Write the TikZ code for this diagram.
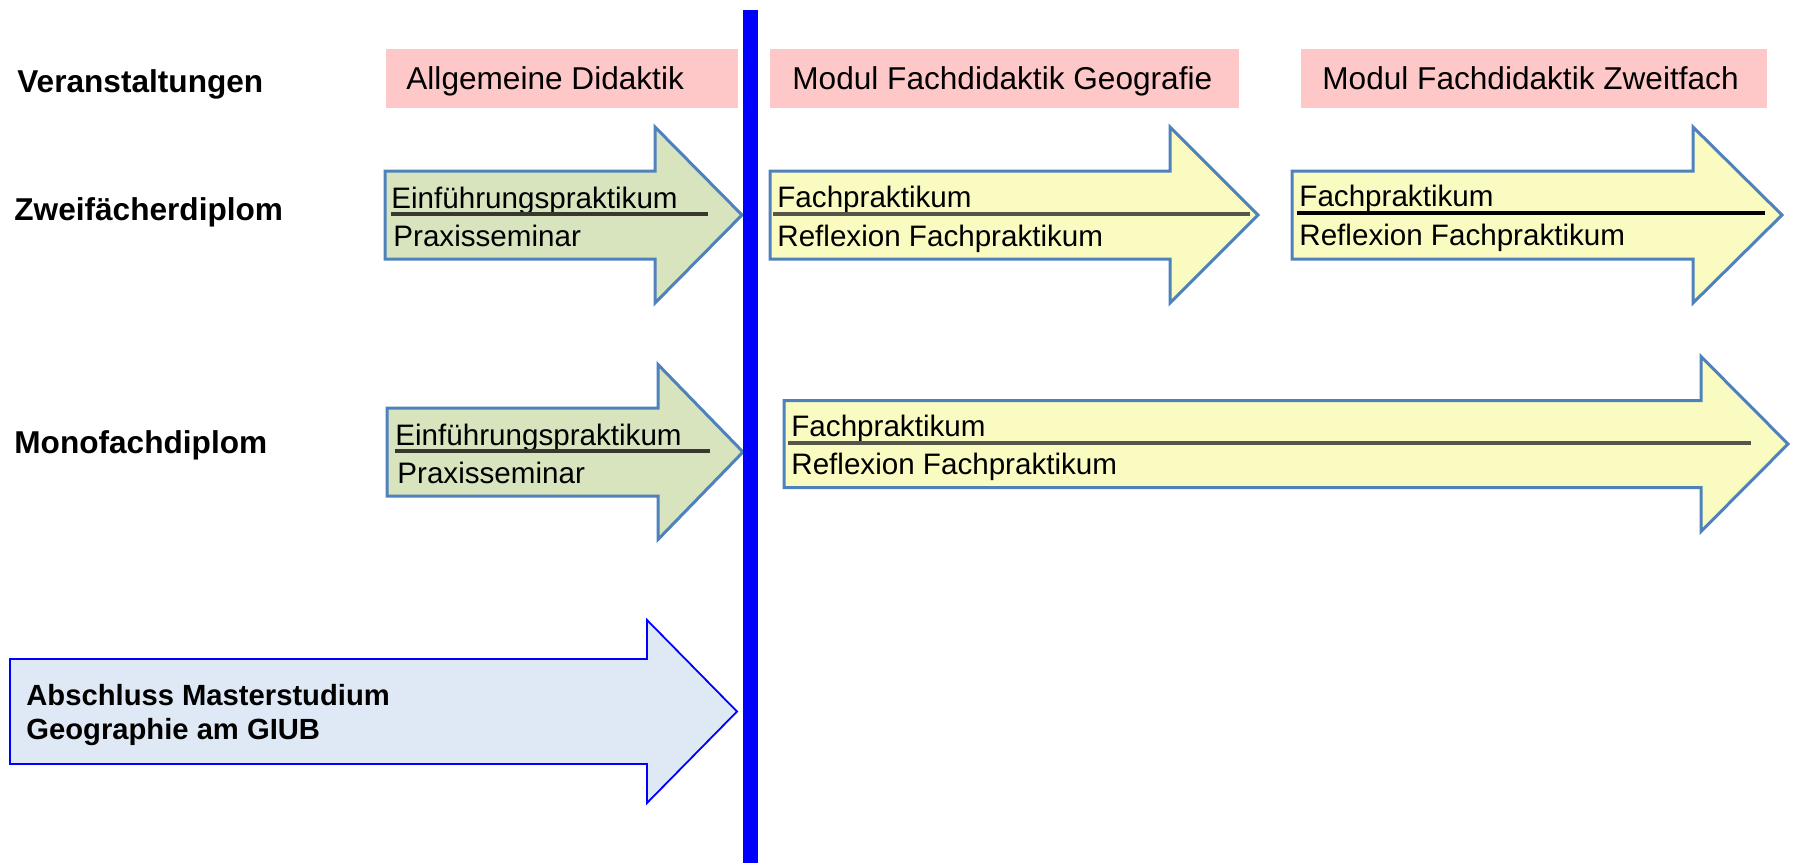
\documentclass[tikz,border=0pt]{standalone}
\usepackage{fontspec}
\setmainfont{Liberation Sans}
\definecolor{pinkbox}{HTML}{FFC8C8}
\definecolor{greenfill}{HTML}{D7E4BD}
\definecolor{yellowfill}{HTML}{FAFBC0}
\definecolor{outlineblue}{HTML}{4F81BD}
\definecolor{lightbluefill}{HTML}{DFE9F5}
\definecolor{divblue}{HTML}{0000FF}
\definecolor{rulegray}{HTML}{38382F}
\definecolor{ruleolive}{HTML}{55564A}
% #1 style, #2 x left, #3 x head, #4 x tip, #5 y centre, #6 half body, #7 half head
\newcommand{\bigarrowshape}[7]{%
  \draw[#1] (#2,#5-#6) -- (#3,#5-#6) -- (#3,#5-#7) -- (#4,#5) -- (#3,#5+#7)
    -- (#3,#5+#6) -- (#2,#5+#6) -- cycle;}
\begin{document}
\begin{tikzpicture}[x=0.5pt,y=-0.5pt,
  header/.style={fill=pinkbox,draw=none},
  headtext/.style={anchor=base west,inner sep=0pt,font=\fontsize{15.8pt}{18pt}\selectfont},
  rowlabel/.style={anchor=base west,inner sep=0pt,font=\fontsize{15.8pt}{18pt}\selectfont\bfseries},
  arrtext/.style={anchor=base west,inner sep=0pt,font=\fontsize{14.8pt}{17pt}\selectfont},
  boldtext/.style={anchor=base west,inner sep=0pt,font=\fontsize{14.6pt}{17pt}\selectfont\bfseries},
  greenarrow/.style={fill=greenfill,draw=outlineblue,line width=1.5pt,line join=miter},
  yellowarrow/.style={fill=yellowfill,draw=outlineblue,line width=1.5pt,line join=miter},
  bluearrow/.style={fill=lightbluefill,draw=divblue,line width=0.9pt,line join=miter},
  divider/.style={draw=divblue,line width=7.5pt},
  subrule/.style={line width=1.7pt}]
\useasboundingbox (0,0) rectangle (1794,863);
% header boxes
\fill[header] (386,49) rectangle (738,108);
\fill[header] (770,49) rectangle (1239,108);
\fill[header] (1301,49) rectangle (1767,108);
\node[headtext] (h1) at (406,89) {Allgemeine Didaktik};
\node[headtext] (h2) at (792,89) {Modul Fachdidaktik Geografie};
\node[headtext] (h3) at (1322,89) {Modul Fachdidaktik Zweitfach};
% row labels
\node[rowlabel] (lv) at (17,92) {Veranstaltungen};
\node[rowlabel] (lz) at (14,220) {Zweifächerdiplom};
\node[rowlabel] (lm) at (14,453) {Monofachdiplom};
% Zweifaecher row
\bigarrowshape{greenarrow}{385}{655}{742}{215}{44}{88}
\bigarrowshape{yellowarrow}{770}{1170}{1258}{215}{44}{88}
\bigarrowshape{yellowarrow}{1292}{1693}{1782}{215}{44}{88}
\node[arrtext] (z1a) at (391,208) {Einführungspraktikum};
\node[arrtext] (z1b) at (393,246) {Praxisseminar};
\draw[subrule,draw=rulegray] (391,214) -- (708,214);
\node[arrtext] (z2a) at (777,207) {Fachpraktikum};
\node[arrtext] (z2b) at (777,246) {Reflexion Fachpraktikum};
\draw[subrule,draw=ruleolive] (773,214) -- (1250,214);
\node[arrtext] (z3a) at (1299,206) {Fachpraktikum};
\node[arrtext] (z3b) at (1299,245) {Reflexion Fachpraktikum};
\draw[subrule,draw=black] (1297,213) -- (1765,213);
% Monofach row
\bigarrowshape{greenarrow}{387}{658}{743}{452}{44}{87.5}
\bigarrowshape{yellowarrow}{784}{1701}{1788}{444}{43.5}{87.5}
\node[arrtext] (m1a) at (395,445) {Einführungspraktikum};
\node[arrtext] (m1b) at (397,483) {Praxisseminar};
\draw[subrule,draw=rulegray] (395,451) -- (710,451);
\node[arrtext] (m2a) at (791,436) {Fachpraktikum};
\node[arrtext] (m2b) at (791,474) {Reflexion Fachpraktikum};
\draw[subrule,draw=ruleolive] (788,443) -- (1751,443);
% bottom arrow
\bigarrowshape{bluearrow}{10}{647}{737}{711.5}{52.5}{91.5}
\node[boldtext] (b1) at (26,705) {Abschluss Masterstudium};
\node[boldtext] (b2) at (26,739) {Geographie am GIUB};
% divider
\coordinate (dtop) at (750.5,10);
\coordinate (dbot) at (750.5,863);
\draw[divider] (dtop) -- (dbot);
\end{tikzpicture}
\end{document}
